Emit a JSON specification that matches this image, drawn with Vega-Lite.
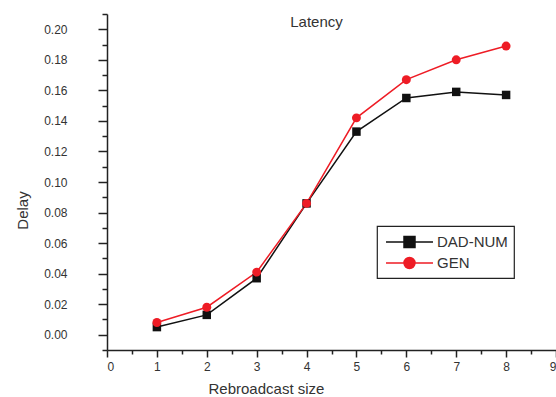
{
  "$schema": "https://vega.github.io/schema/vega-lite/v6.json",
  "width": 449,
  "height": 336,
  "autosize": "none",
  "padding": {"left": 107, "top": 14, "right": 0, "bottom": 47},
  "background": "white",
  "config": {
    "view": {"stroke": null},
    "font": "Liberation Sans",
    "axis": {"grid": false, "labelFont": "Liberation Sans", "titleFont": "Liberation Sans", "labelColor": "#333", "titleColor": "#333", "domainColor": "#222", "tickColor": "#222", "domainWidth": 1.5, "tickWidth": 1.5, "labelFontSize": 12, "titleFontSize": 15, "titleFontWeight": "normal"}
  },
  "title": {"text": "Latency", "fontSize": 15, "fontWeight": "normal", "color": "#333", "font": "Liberation Sans", "anchor": "middle", "dx": -15, "offset": -17},
  "data": {"values": [
    {"x": 1, "delay": 0.005, "series": "DAD-NUM"},
    {"x": 2, "delay": 0.013, "series": "DAD-NUM"},
    {"x": 3, "delay": 0.037, "series": "DAD-NUM"},
    {"x": 4, "delay": 0.086, "series": "DAD-NUM"},
    {"x": 5, "delay": 0.133, "series": "DAD-NUM"},
    {"x": 6, "delay": 0.155, "series": "DAD-NUM"},
    {"x": 7, "delay": 0.159, "series": "DAD-NUM"},
    {"x": 8, "delay": 0.157, "series": "DAD-NUM"},
    {"x": 1, "delay": 0.008, "series": "GEN"},
    {"x": 2, "delay": 0.018, "series": "GEN"},
    {"x": 3, "delay": 0.041, "series": "GEN"},
    {"x": 4, "delay": 0.086, "series": "GEN"},
    {"x": 5, "delay": 0.142, "series": "GEN"},
    {"x": 6, "delay": 0.167, "series": "GEN"},
    {"x": 7, "delay": 0.180, "series": "GEN"},
    {"x": 8, "delay": 0.189, "series": "GEN"}
  ]},
  "resolve": {"axis": {"x": "independent", "y": "independent"}},
  "layer": [
    {
      "mark": {"type": "point", "opacity": 0},
      "encoding": {
        "x": {"field": "x", "type": "quantitative", "scale": {"domain": [0, 9], "nice": false, "zero": false}, "axis": {"orient": "bottom", "values": [0.5, 1.5, 2.5, 3.5, 4.5, 5.5, 6.5, 7.5, 8.5], "labels": false, "domain": false, "tickSize": 4, "title": null}},
        "y": {"field": "delay", "type": "quantitative", "scale": {"domain": [-0.01, 0.21], "nice": false, "zero": false}, "axis": {"orient": "left", "values": [-0.01, 0.01, 0.03, 0.05, 0.07, 0.09, 0.11, 0.13, 0.15, 0.17, 0.19, 0.21], "labels": false, "domain": false, "tickSize": 5, "title": null}}
      }
    },
    {
      "mark": {"type": "line", "strokeWidth": 1.5},
      "encoding": {
        "x": {"field": "x", "type": "quantitative", "scale": {"domain": [0, 9], "nice": false, "zero": false}, "axis": {"orient": "bottom", "values": [0, 1, 2, 3, 4, 5, 6, 7, 8, 9], "tickSize": 7, "labelPadding": 4, "title": "Rebroadcast size", "titleX": 101, "titleAlign": "left", "titleY": 38, "titleBaseline": "middle"}},
        "y": {"field": "delay", "type": "quantitative", "scale": {"domain": [-0.01, 0.21], "nice": false, "zero": false}, "axis": {"orient": "left", "values": [0, 0.02, 0.04, 0.06, 0.08, 0.1, 0.12, 0.14, 0.16, 0.18, 0.2], "format": ".2f", "tickSize": 9, "labelPadding": 31, "title": "Delay", "titleX": -85, "titleY": 196, "titleAlign": "center", "titleAngle": -90, "titleBaseline": "middle"}},
        "color": {"field": "series", "type": "nominal", "scale": {"domain": ["DAD-NUM", "GEN"], "range": ["#111111", "#ee1c25"]},
          "legend": {"title": null, "orient": "none", "legendX": 270, "legendY": 212, "strokeColor": "#222", "fillColor": "white", "padding": 6, "labelFontSize": 15, "labelColor": "#333", "labelFont": "Liberation Sans", "symbolType": "M-2.61,0H2.61M-0.61,-0.61H0.61V0.61H-0.61Z", "symbolSize": 324, "symbolOffset": 16.5, "symbolStrokeWidth": 1.5, "rowPadding": 2, "labelOffset": 17.5, "labelExpr": "datum.label + '\u00a0\u00a0\u00a0'",
            "encode": {
              "legend": {"update": {"strokeWidth": {"value": 1.2}}},
              "symbols": {"update": {
              "shape": {"signal": "datum.value === 'GEN' ? 'M-2.61,0H0.61A0.61,0.61,0,1,1,-0.61,0A0.61,0.61,0,1,1,0.61,0H2.61' : 'M-2.61,0H2.61M-0.61,-0.61H0.61V0.61H-0.61Z'"},
              "fill": {"signal": "datum.value === 'GEN' ? '#ee1c25' : '#111111'"},
              "stroke": {"signal": "datum.value === 'GEN' ? '#ee1c25' : '#111111'"},
              "fillOpacity": {"value": 1}
            }}}}
        }
      }
    },
    {
      "transform": [{"filter": "datum.series === 'DAD-NUM'"}],
      "mark": {"type": "point", "filled": true, "opacity": 1, "size": 72, "shape": "square"},
      "encoding": {
        "x": {"field": "x", "type": "quantitative", "axis": null},
        "y": {"field": "delay", "type": "quantitative", "axis": null},
        "color": {"field": "series", "type": "nominal", "legend": null}
      }
    },
    {
      "transform": [{"filter": "datum.series === 'GEN'"}],
      "mark": {"type": "point", "filled": true, "opacity": 1, "size": 80, "shape": "circle"},
      "encoding": {
        "x": {"field": "x", "type": "quantitative", "axis": null},
        "y": {"field": "delay", "type": "quantitative", "axis": null},
        "color": {"field": "series", "type": "nominal", "legend": null}
      }
    }
  ]
}
